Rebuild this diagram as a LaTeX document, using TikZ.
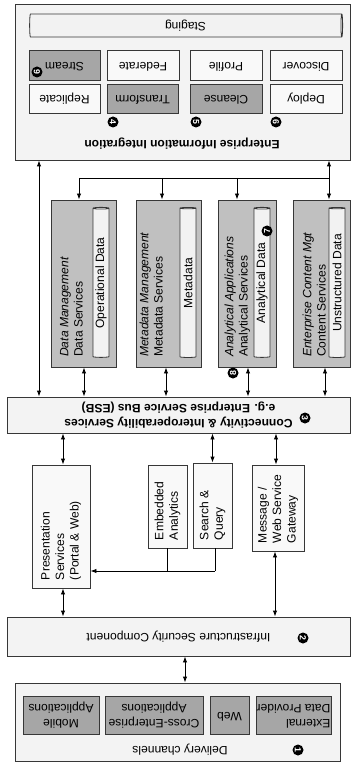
\documentclass[tikz,border=0pt]{standalone}
\usepackage{fontspec}
\setmainfont{Liberation Sans}
\usepackage{graphicx}
\usepackage{tikz}
\usepackage{xcolor}
\usetikzlibrary{positioning,arrows.meta,calc,shapes.geometric}
\definecolor{bandfill}{RGB}{243,243,243}
\definecolor{shadefill}{RGB}{166,166,166}
\definecolor{servfill}{RGB}{192,192,192}
\definecolor{paperfill}{RGB}{249,249,249}
\definecolor{linegray}{RGB}{55,55,55}
\newlength{\pxu}
\setlength{\pxu}{0.03cm}
\newcommand{\diagfont}{\fontsize{10.3}{12.3}\selectfont}
\newcommand{\flipped}[1]{\rotatebox[origin=c]{180}{\begin{tabular}{@{}c@{}}#1\end{tabular}}}
\newcommand{\flippedl}[1]{\rotatebox[origin=c]{180}{\begin{tabular}{@{}l@{}}#1\end{tabular}}}
\newcommand{\sideup}[2]{\rotatebox[origin=c]{90}{\parbox{#1\pxu}{\raggedright #2}}}
\newcommand{\sidelines}[1]{\rotatebox[origin=c]{90}{\begin{tabular}{@{}l@{}}#1\end{tabular}}}
\tikzset{
  wh/.style 2 args={minimum width=#1*\pxu, minimum height=#2*\pxu},
  band/.style={draw=linegray, line width=0.7pt, fill=bandfill, inner sep=0pt, align=center},
  box/.style={draw=linegray, line width=0.7pt, fill=paperfill, inner sep=0pt, align=center},
  darkbox/.style={box, fill=shadefill},
  servbox/.style={box, fill=servfill},
  store/.style={cylinder, draw=linegray, line width=0.7pt, fill=gray!10, aspect=0.15, inner sep=0pt},
  badge/.style={circle, fill=black, text=white, inner sep=0pt, minimum size=11*\pxu, font=\bfseries\fontsize{7.5}{8}\selectfont},
  badgeh/.style={badge, rotate=-90},
  badgev/.style={badge, rotate=90},
  arrow/.style={-{Latex[length=1.8mm,width=1.3mm]}, line width=0.7pt},
  dblarrow/.style={{Latex[length=1.8mm,width=1.3mm]}-{Latex[length=1.8mm,width=1.3mm]}, line width=0.7pt},
  link/.style={line width=0.7pt}
}

\begin{document}
\begin{tikzpicture}[x=0.03cm, y=-0.03cm, font=\diagfont]
    \useasboundingbox (0,0) rectangle (351,767);
    \node[band, wh={335}{156}] (eii) at (182.5,82) {};
    \node[store, wh={23}{313}, rotate=180, shape border rotate=180] (staging) at (185.5,25.5) {Staging};
    \node[darkbox, wh={71}{30}] (stream) at (64.5,65) {\flipped{Stream}};
    \node[box, wh={72}{30}] (federate) at (143,65) {\flipped{Federate}};
    \node[box, wh={72}{30}] (profile) at (226,65) {\flipped{Profile}};
    \node[box, wh={72}{30}] (discover) at (306,65) {\flipped{Discover}};
    \node[box, wh={71}{29}] (replicate) at (64.5,98.5) {\flipped{Replicate}};
    \node[darkbox, wh={71}{29}] (transform) at (142.5,98.5) {\flipped{Transform}};
    \node[darkbox, wh={72}{29}] (cleanse) at (226,98.5) {\flipped{Cleanse}};
    \node[box, wh={72}{29}] (deploy) at (306,98.5) {\flipped{Deploy}};
    \node[font=\diagfont\bfseries] (eiititle) at (182,143) {\flipped{Enterprise Information Integration}};
    \node[badgeh] (b9) at (37,72) {9};
    \node[badgeh] (b4) at (113,122) {4};
    \node[badgeh] (b5) at (196,122) {5};
    \node[badgeh] (b6) at (276,122) {6};

    \node[servbox, wh={65}{167}] (datamgmt) at (83.5,283.5) {};
    \node[servbox, wh={65}{167}] (metamgmt) at (168.5,283.5) {};
    \node[servbox, wh={58}{167}] (analytic) at (247,283.5) {};
    \node[servbox, wh={57}{167}] (content) at (321.5,283.5) {};
    \node[anchor=south west, inner sep=0pt] (datamgmtlbl) at (58,357) {\sidelines{\textit{Data Management}\\Data Services}};
    \node[anchor=south west, inner sep=0pt] (metamgmtlbl) at (138,357) {\sidelines{\textit{Metadata Management}\\Metadata Services}};
    \node[anchor=south west, inner sep=0pt] (analyticlbl) at (223,357) {\sidelines{\textit{Analytical Applications}\\Analytical Services}};
    \node[anchor=south west, inner sep=0pt] (contentlbl) at (301,357) {\sidelines{\textit{Enterprise Content Mgt}\\Content Services}};
    \node[store, wh={16}{150}, rotate=90] (opdata) at (101,283) {Operational Data};
    \node[store, wh={16}{150}, rotate=90] (metadata) at (188,283) {Metadata};
    \node[store, wh={16}{150}, rotate=90] (andata) at (262,283) {Analytical Data};
    \node[store, wh={16}{150}, rotate=90] (unstruct) at (337,283) {Unstructured Data};
    \node[badgev] (b7) at (267,231) {7};
    \node[badgev] (b8) at (233,373) {8};

    \node[band, wh={343}{36}, font=\diagfont\bfseries] (esb) at (178.5,415) {\flipped{Connectivity \& Interoperability Services\\e.g. Enterprise Service Bus (ESB)}};
    \node[badgeh] (b3) at (305,418) {3};

    \node[box, wh={58}{123}] (present) at (61,526.5) {\sideup{107}{Presentation\\Services\\(Portal \& Web)}};
    \node[box, wh={39}{83}] (embedded) at (167.5,506.5) {\sideup{67}{Embedded\\Analytics}};
    \node[box, wh={39}{85}] (search) at (212.5,505.5) {\sideup{69}{Search \&\\Query}};
    \node[box, wh={52}{86}] (gateway) at (278,508) {\sideup{70}{Message /\\Web Service\\Gateway}};

    \node[band, wh={343}{39}] (security) at (178.5,636.5) {\flipped{Infrastructure Security Component}};
    \node[badgeh] (b2) at (303,638) {2};

    \node[band, wh={325}{78}] (delivery) at (177.5,722) {};
    \node[darkbox, wh={76}{38}] (mobile) at (61,715) {\flipped{Mobile\\Applications}};
    \node[darkbox, wh={98}{38}] (crossent) at (154,715) {\flipped{Cross-Enterprise\\Applications}};
    \node[darkbox, wh={39}{38}] (web) at (229.5,715) {\flipped{Web}};
    \node[darkbox, wh={75}{38}] (extdata) at (293.5,715) {\flippedl{External\\Data Provider}};
    \node (deliverylbl) at (180,749) {\flipped{Delivery channels}};
    \node[badgeh] (b1) at (298,750) {1};

    \coordinate (tapleft) at (39,178);
    \coordinate (busR) at (329,178);
    \coordinate (busL) at (79,178);
    \coordinate (busM) at (162,178);
    \coordinate (busA) at (237,178);
    \draw[dblarrow] (eii.south -| tapleft) -- (esb.north -| tapleft);
    \draw[dblarrow] (eii.south -| busR) -- (content.north -| busR);
    \draw[link] (busR) -- (busL);
    \draw[arrow] (busL) -- (datamgmt.north -| busL);
    \draw[arrow] (busM) -- (metamgmt.north -| busM);
    \draw[arrow] (busA) -- (analytic.north -| busA);

    \coordinate (tapdm) at (84,380);
    \coordinate (tapmm) at (166,380);
    \coordinate (tapaa) at (248,380);
    \coordinate (tapcm) at (325,380);
    \draw[dblarrow] (datamgmt.south -| tapdm) -- (esb.north -| tapdm);
    \draw[dblarrow] (metamgmt.south -| tapmm) -- (esb.north -| tapmm);
    \draw[dblarrow] (analytic.south -| tapaa) -- (esb.north -| tapaa);
    \draw[dblarrow] (content.south -| tapcm) -- (esb.north -| tapcm);

    \coordinate (tappres) at (63,450);
    \coordinate (tapgate) at (276,450);
    \coordinate (joinpt) at (215,571);
    \draw[dblarrow] (esb.south -| tappres) -- (present.north -| tappres);
    \draw[dblarrow] (esb.south -| search) -- (search.north);
    \draw[dblarrow] (esb.south -| tapgate) -- (gateway.north -| tapgate);
    \draw[link] (embedded.south) -- (embedded.south |- joinpt);
    \draw[link] (search.south -| joinpt) -- (joinpt);
    \draw[arrow] (joinpt) -- (present.east |- joinpt);

    \coordinate (tapsec) at (275,600);
    \coordinate (tapdel) at (185,670);
    \draw[dblarrow] (present.south -| tappres) -- (security.north -| tappres);
    \draw[dblarrow] (gateway.south -| tapsec) -- (security.north -| tapsec);
    \draw[dblarrow] (security.south -| tapdel) -- (delivery.north -| tapdel);
  \end{tikzpicture}
\end{document}
